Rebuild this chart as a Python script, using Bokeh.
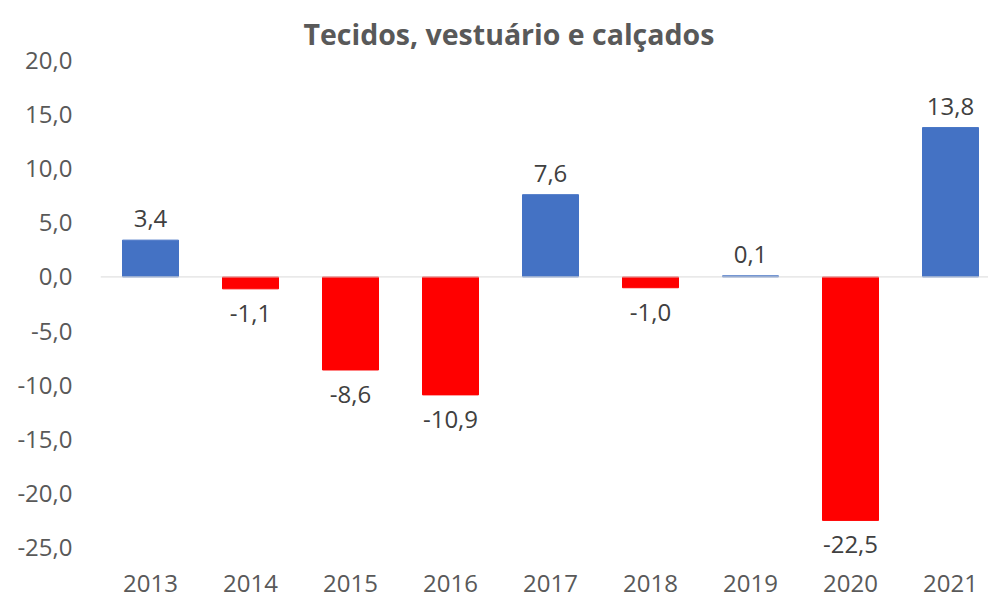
from bokeh.plotting import figure
from bokeh.models import ColumnDataSource, Range1d, FixedTicker, Span, Title, LabelSet
from bokeh.core.properties import value
from bokeh.embed import file_html
from bokeh.resources import INLINE

# Data
years = ["2013", "2014", "2015", "2016", "2017", "2018", "2019", "2020", "2021"]
values = [3.4, -1.1, -8.6, -10.9, 7.6, -1.0, 0.1, -22.5, 13.8]
y_ticks = [-25, -20, -15, -10, -5, 0, 5, 10, 15, 20]
title_text = "Tecidos, vestuário e calçados"

POS_COLOR = "#4472C4"
NEG_COLOR = "#FF0000"
FONT = "Open Sans"

xs = list(range(len(years)))
src = ColumnDataSource(dict(
    x=xs,
    v=values,
    color=[POS_COLOR if v >= 0 else NEG_COLOR for v in values],
    label=[f"{v:.1f}".replace(".", ",") for v in values],
    yoff=[13 if v >= 0 else -33 for v in values],
))

p = figure(width=988, height=601, output_backend="svg", toolbar_location=None,
           x_range=Range1d(-0.5, 8.38), y_range=Range1d(-26.39, 20),
           min_border_left=100, min_border_right=0, min_border_top=60, min_border_bottom=39)

p.add_layout(Title(text=title_text, align="left", offset=203,
                   text_font=FONT, text_font_size="28.5px", text_font_style="bold",
                   text_color="#595959", standoff=15), "above")

p.vbar(x="x", top="v", bottom=0, width=0.56, color="color", source=src)

p.add_layout(Span(location=0, dimension="width", line_color="#D9D9D9", line_width=1))

p.add_layout(LabelSet(x="x", y="v", text="label", source=src, text_align="center",
                      text_baseline="alphabetic", y_offset="yoff",
                      text_font=value(FONT), text_font_size=value("24px"),
                      text_color=value("#404040")))

p.xgrid.visible = False
p.ygrid.visible = False
p.outline_line_color = None

p.xaxis.ticker = FixedTicker(ticks=xs)
p.xaxis.major_label_overrides = {i: y for i, y in enumerate(years)}
p.yaxis.ticker = FixedTicker(ticks=y_ticks)
p.yaxis.major_label_overrides = {t: f"{t:.1f}".replace(".", ",") for t in y_ticks}

for ax in (p.xaxis[0], p.yaxis[0]):
    ax.axis_line_color = None
    ax.major_tick_line_color = None
    ax.minor_tick_line_color = None
    ax.major_tick_out = 0
    ax.major_tick_in = 0
    ax.minor_tick_out = 0
    ax.major_label_text_font = FONT
    ax.major_label_text_font_size = "24px"
    ax.major_label_text_color = "#595959"

p.xaxis.major_label_text_line_height = 0.8
p.xaxis.major_label_standoff = 12
p.yaxis.major_label_standoff = 28

open("out.html", "w").write(file_html(p, INLINE))
